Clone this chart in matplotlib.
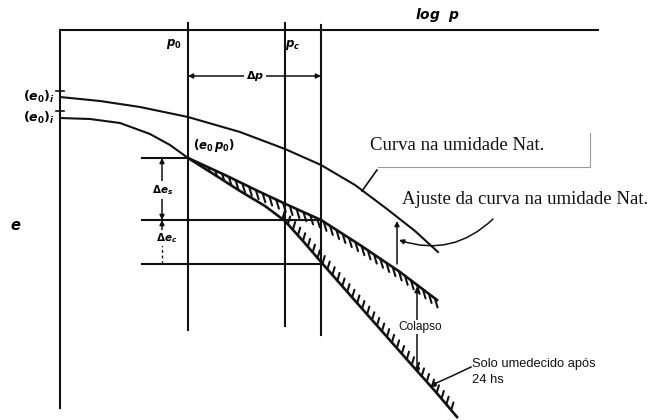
import numpy as np
import matplotlib
matplotlib.use("Agg")
import matplotlib.pyplot as plt
from matplotlib.collections import LineCollection
from matplotlib.patches import Polygon

plt.rcParams['mathtext.fontset'] = 'custom'
plt.rcParams['mathtext.it'] = 'DejaVu Sans:italic:bold'
plt.rcParams['mathtext.rm'] = 'DejaVu Sans:bold'
plt.rcParams['mathtext.bf'] = 'DejaVu Sans:bold'

# Diagram coordinates: x runs along log p (to the right), y along e (downwards)
natural_x = [60, 100, 140, 188, 240, 285, 321, 355, 387, 415, 438]
natural_e = [97, 101, 107, 117, 132, 149, 165, 185, 209, 231, 252]

initial_x = [60, 90, 120, 150, 170, 188]
initial_e = [118, 119, 123, 134, 145, 158]

adjusted_x = [188, 225, 260, 290, 321, 360, 400, 437]
adjusted_e = [158, 175, 192, 206, 220, 245, 272, 300]

wetted_x = [188, 215, 240, 265, 285, 303, 321, 350, 380, 410, 435, 457]
wetted_e = [158, 175, 191, 206, 221, 241, 262, 295, 329, 363, 391, 417]

p0_x, pc_x, pf_x = 188, 285, 321
e0_level, es_level, ec_level = 158, 220, 264
e0i_ticks = [91, 111]

fig = plt.figure(figsize=(6.52, 4.20), dpi=100)
ax = fig.add_axes([0, 0, 1, 1])
ax.set_xlim(0, 652)
ax.set_ylim(420, 0)
ax.axis('off')

K = '#111111'
LW = 1.5

# axes of the diagram
ax.plot([60, 598], [30, 30], color=K, lw=LW)
ax.plot([60, 60], [30, 408], color=K, lw=LW)
for yt in e0i_ticks:
    ax.plot([56, 64], [yt, yt], color=K, lw=1.2)

# pressure verticals
ax.plot([p0_x, p0_x], [23, 330], color=K, lw=LW)
ax.plot([pc_x, pc_x], [23, 326], color=K, lw=LW)
ax.plot([pf_x, pf_x], [25, 335], color=K, lw=LW)

# void-ratio levels
ax.plot([142, p0_x], [e0_level, e0_level], color=K, lw=LW)
ax.plot([142, pf_x], [es_level, es_level], color=K, lw=LW)
ax.plot([142, pf_x], [ec_level, ec_level], color=K, lw=LW)

# curves
ax.plot(natural_x, natural_e, color=K, lw=LW, solid_joinstyle='round')
ax.plot(initial_x, initial_e, color=K, lw=LW, solid_joinstyle='round')
ax.plot(adjusted_x, adjusted_e, color=K, lw=1.9, solid_joinstyle='round')
ax.plot(wetted_x, wetted_e, color=K, lw=1.9, solid_joinstyle='round')


def hatch_ticks(xs, ys, spacing, length, direction, x_from, x_to):
    xs = np.asarray(xs, float)
    ys = np.asarray(ys, float)
    s = np.concatenate([[0], np.cumsum(np.hypot(np.diff(xs), np.diff(ys)))])
    d = np.asarray(direction, float)
    d = d / np.hypot(*d)
    segs = []
    for si in np.arange(0, s[-1], spacing):
        x = np.interp(si, s, xs)
        y = np.interp(si, s, ys)
        if x_from <= x <= x_to:
            segs.append([(x, y), (x + d[0] * length, y + d[1] * length)])
    return segs


# hatching below the adjusted curve, kept above the wetted curve
above_wetted = Polygon(list(zip(wetted_x, wetted_e)) + [(470, 0), (188, 0)],
                       closed=True, transform=ax.transData)
lc1 = LineCollection(hatch_ticks(adjusted_x, adjusted_e, 7.5, 9.5, (0.3, 1), 194, 436),
                     colors=K, linewidths=1.5, capstyle='round')
ax.add_collection(lc1)
lc1.set_clip_path(above_wetted)

# hatching above the wetted curve
lc2 = LineCollection(hatch_ticks(wetted_x, wetted_e, 7.5, 8, (0.3, -1), 280, 456),
                     colors=K, linewidths=1.5, capstyle='round')
ax.add_collection(lc2)

arrow_kw = dict(arrowstyle='-|>', color=K, lw=1.1, mutation_scale=7,
                shrinkA=0, shrinkB=0)

# delta p dimension
ax.annotate('', xy=(p0_x, 76), xytext=(255, 76), arrowprops=arrow_kw)
ax.annotate('', xy=(pf_x, 76), xytext=(255, 76), arrowprops=arrow_kw)
ax.text(255, 76, r'$\Delta p$', ha='center', va='center', fontsize=8,
        bbox=dict(fc='white', ec='none', pad=1.5))

# delta e dimensions
ax.annotate('', xy=(162, e0_level), xytext=(162, 189), arrowprops=arrow_kw)
ax.annotate('', xy=(162, es_level), xytext=(162, 189), arrowprops=arrow_kw)
ax.text(163, 190, r'$\Delta e_s$', ha='center', va='center', fontsize=7.5,
        bbox=dict(fc='white', ec='none', pad=1.2))
ax.annotate('', xy=(162, es_level), xytext=(162, 232), arrowprops=arrow_kw)
ax.plot([162, 162], [244, ec_level], color=K, lw=1.0, ls=(0, (2, 2)))
ax.text(167, 238, r'$\Delta e_c$', ha='center', va='center', fontsize=7.5,
        bbox=dict(fc='white', ec='none', pad=1.0))

# labels on the axes
ax.text(438, 15, r'$log\ \ p$', ha='center', va='center', fontsize=10)
ax.text(174, 44, r'$p_0$', ha='center', va='center', fontsize=8.5)
ax.text(293, 45, r'$p_c$', ha='center', va='center', fontsize=8.5)
ax.text(39, 97, r'$(e_0)_i$', ha='center', va='center', fontsize=9)
ax.text(39, 118, r'$(e_0)_i$', ha='center', va='center', fontsize=9)
ax.text(16, 226, r'$e$', ha='center', va='center', fontsize=10.5)
ax.text(214, 146, r'$(e_0\,p_0)$', ha='center', va='center', fontsize=8.5)

# natural moisture curve callout
ax.text(370, 146, 'Curva na umidade Nat.', ha='left', va='center',
        fontsize=13.5, family='Liberation Serif', color=K)
ax.plot([378, 590, 590], [167, 167, 133], color='#9a9a9a', lw=0.8)
ax.plot([377, 362], [170, 191], color=K, lw=1.2)

# adjusted curve callout
ax.text(402, 199, 'Ajuste da curva na umidade Nat.', ha='left', va='center',
        fontsize=13.5, family='Liberation Serif', color=K)
ax.annotate('', xy=(399, 240), xytext=(493, 219),
            arrowprops=dict(arrowstyle='-|>', color=K, lw=1.1, mutation_scale=7,
                            shrinkA=0, shrinkB=0,
                            connectionstyle='arc3,rad=-0.3'))
ax.annotate('', xy=(397, 221), xytext=(397, 264), arrowprops=arrow_kw)

# collapse arrow
ax.annotate('', xy=(417, 287), xytext=(417, 369), arrowprops=arrow_kw)
ax.plot([417], [368], 'o', color=K, ms=2.5)
ax.text(420, 327, 'Colapso', ha='center', va='center', fontsize=8.6,
        family='Liberation Sans', color=K,
        bbox=dict(fc='white', ec='none', pad=1.0))

# wetted soil callout
ax.plot([434, 452, 471], [384, 376, 367], color=K, lw=1.1)
ax.plot([434], [384], 'o', color=K, ms=2.5)
ax.text(472, 364, 'Solo umedecido após', ha='left', va='center', fontsize=9.3,
        family='Liberation Sans', color=K)
ax.text(472, 380, '24 hs', ha='left', va='center', fontsize=9.3,
        family='Liberation Sans', color=K)

fig.savefig('out.png', dpi=100)
